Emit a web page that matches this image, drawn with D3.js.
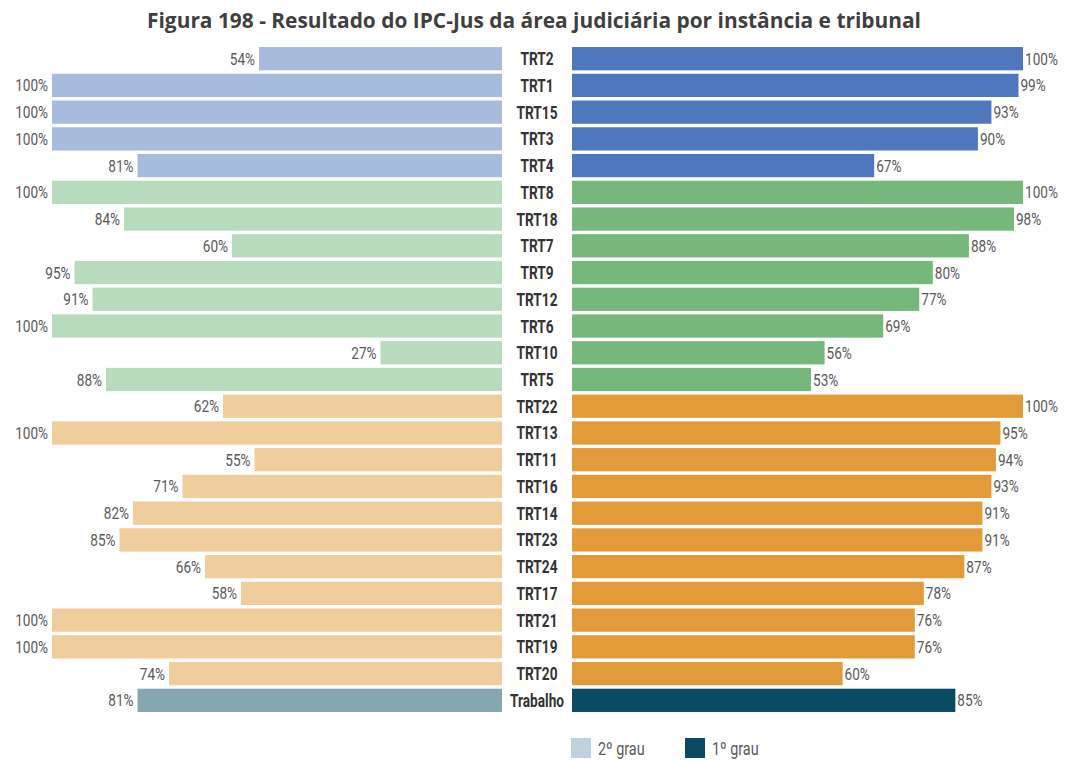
<!DOCTYPE html>
<html>
<head>
<meta charset="utf-8">
<script src="https://cdn.jsdelivr.net/npm/d3@7"></script>
<style>
  body { margin: 0; background: #fff; }
  svg text { font-family: Roboto, sans-serif; }
</style>
</head>
<body>
<div id="chart"></div>
<script>
const tribunals = ['TRT2', 'TRT1', 'TRT15', 'TRT3', 'TRT4', 'TRT8', 'TRT18', 'TRT7', 'TRT9',
  'TRT12', 'TRT6', 'TRT10', 'TRT5', 'TRT22', 'TRT13', 'TRT11', 'TRT16', 'TRT14', 'TRT23',
  'TRT24', 'TRT17', 'TRT21', 'TRT19', 'TRT20', 'Trabalho']
const segundoGrau = [54, 100, 100, 100, 81, 100, 84, 60, 95, 91, 100, 27, 88, 62, 100, 55,
  71, 82, 85, 66, 58, 100, 100, 74, 81]
const primeiroGrau = [100, 99, 93, 90, 67, 100, 98, 88, 80, 77, 69, 56, 53, 100, 95, 94,
  93, 91, 91, 87, 78, 76, 76, 60, 85]
// group of each row: 0 blue, 1 green, 2 orange, 3 total
const groups = [0, 0, 0, 0, 0, 1, 1, 1, 1, 1, 1, 1, 1, 2, 2, 2, 2, 2, 2, 2, 2, 2, 2, 2, 3]
const legendLabels = ['2º grau', '1º grau']

const lightColors = ['#a7bbdd', '#b9dbbd', '#f0cd9c', '#86a6b2']
const darkColors = ['#4f77bd', '#76b77b', '#e29b38', '#0b4a63']

const width = 1067
const height = 761

// the original uses a condensed font, so squeeze the text horizontally
const squeeze = 0.8

const datapoints = tribunals.map((t, i) => ({
  name: t,
  left: segundoGrau[i],
  right: primeiroGrau[i],
  group: groups[i]
}))

const svg = d3
  .select('#chart')
  .append('svg')
  .attr('width', width)
  .attr('height', height)

const yPositionScale = d3
  .scaleBand()
  .domain(tribunals)
  .range([45.7, 713.3])
  .paddingInner(0.13)
  .paddingOuter(0.05)

const leftScale = d3.scaleLinear().domain([0, 100]).range([502, 52])
const rightScale = d3.scaleLinear().domain([0, 100]).range([572, 1023])

// title
svg
  .append('text')
  .attr('x', 534)
  .attr('y', 28)
  .attr('text-anchor', 'middle')
  .attr('font-size', 20.5)
  .attr('font-weight', 'bold')
  .attr('fill', '#3f3f3f')
  .style('font-family', "'Open Sans', sans-serif")
  .attr('textLength', 774)
  .attr('lengthAdjust', 'spacingAndGlyphs')
  .text('Figura 198 - Resultado do IPC-Jus da área judiciária por instância e tribunal')

const rows = svg
  .selectAll('.row')
  .data(datapoints)
  .enter()
  .append('g')
  .attr('class', 'row')
  .attr('transform', d => 'translate(0,' + yPositionScale(d.name) + ')')

const bh = yPositionScale.bandwidth()

rows
  .append('rect')
  .attr('x', d => leftScale(d.left))
  .attr('y', 0)
  .attr('width', d => leftScale(0) - leftScale(d.left))
  .attr('height', bh)
  .attr('fill', d => lightColors[d.group])

rows
  .append('rect')
  .attr('x', rightScale(0))
  .attr('y', 0)
  .attr('width', d => rightScale(d.right) - rightScale(0))
  .attr('height', bh)
  .attr('fill', d => darkColors[d.group])

rows
  .append('text')
  .attr('transform', d =>
    'translate(' + (leftScale(d.left) - 4) + ',' + (bh / 2 + 6) + ') scale(' + squeeze + ',1)')
  .attr('text-anchor', 'end')
  .attr('font-size', 17)
  .attr('fill', '#595959')
  .text(d => d.left + '%')

rows
  .append('text')
  .attr('transform', d =>
    'translate(' + (rightScale(d.right) + 2) + ',' + (bh / 2 + 6) + ') scale(' + squeeze + ',1)')
  .attr('font-size', 17)
  .attr('fill', '#595959')
  .text(d => d.right + '%')

rows
  .append('text')
  .attr('transform', 'translate(537,' + (bh / 2 + 6.5) + ') scale(0.76,1)')
  .attr('text-anchor', 'middle')
  .attr('font-size', 18)
  .attr('font-weight', 'bold')
  .attr('fill', '#333')
  .text(d => d.name)

// legend
const legend = svg
  .selectAll('.legend')
  .data(legendLabels)
  .enter()
  .append('g')
  .attr('class', 'legend')
  .attr('transform', (d, i) => 'translate(' + (571 + i * 114) + ',738)')

legend
  .append('rect')
  .attr('width', 20)
  .attr('height', 20)
  .attr('fill', (d, i) => (i === 0 ? '#c0d3dc' : '#0b4a63'))

legend
  .append('text')
  .attr('transform', 'translate(27,17) scale(' + squeeze + ',1)')
  .attr('font-size', 18)
  .attr('fill', '#595959')
  .text(d => d)
</script>
</body>
</html>
